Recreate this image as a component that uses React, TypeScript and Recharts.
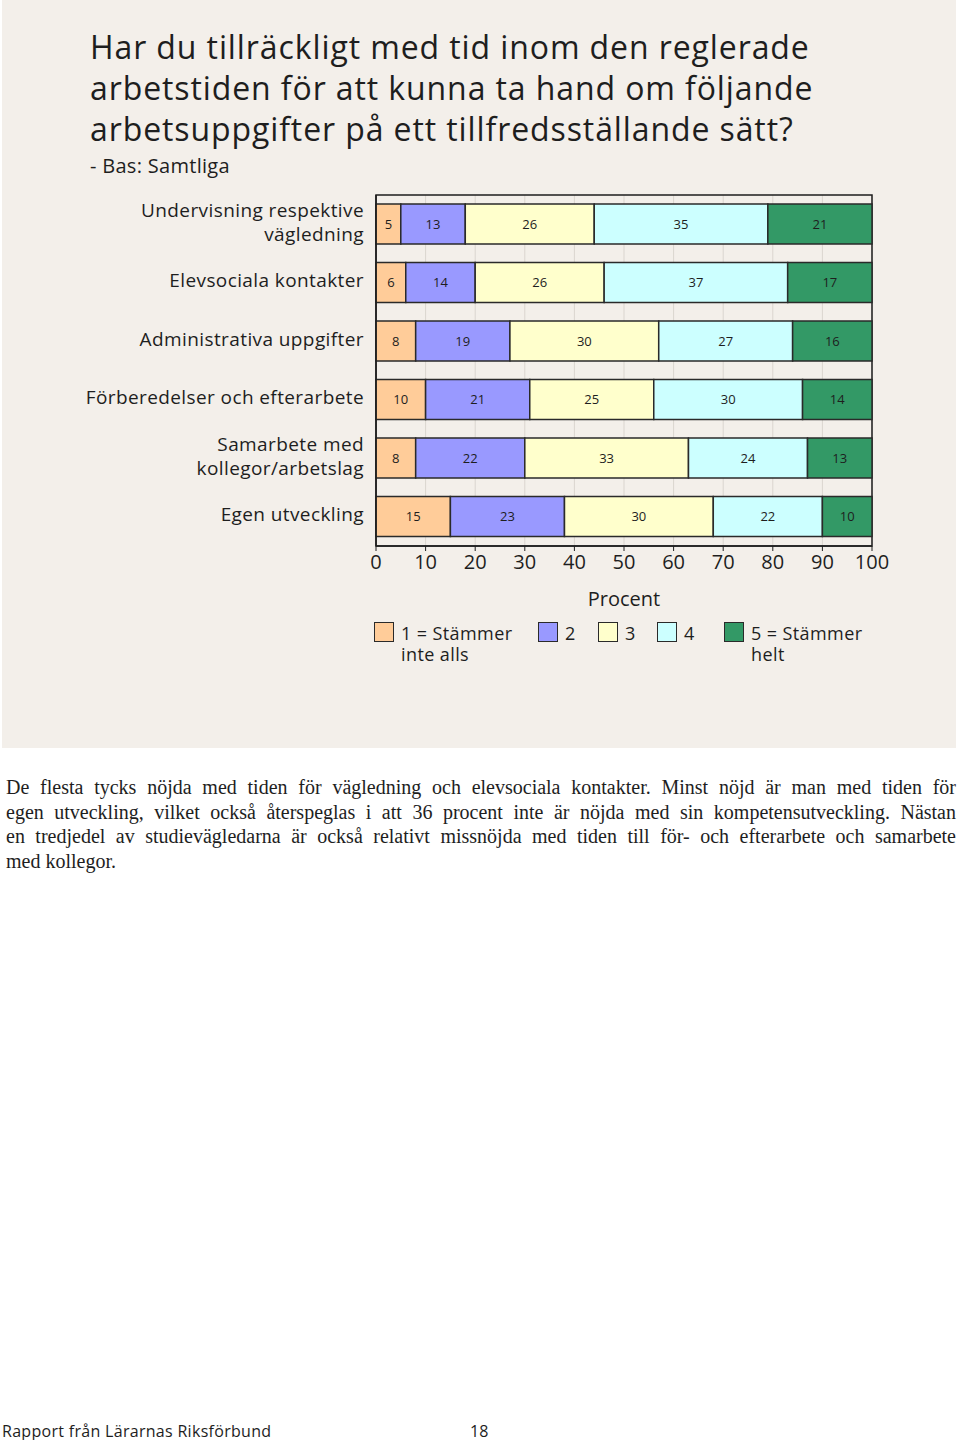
import { BarChart, Bar, XAxis, YAxis, CartesianGrid, LabelList, ReferenceArea } from "recharts";

const categories = [
  "Undervisning respektive|vägledning",
  "Elevsociala kontakter",
  "Administrativa uppgifter",
  "Förberedelser och efterarbete",
  "Samarbete med|kollegor/arbetslag",
  "Egen utveckling",
];
const s1 = [5, 6, 8, 10, 8, 15];
const s2 = [13, 14, 19, 21, 22, 23];
const s3 = [26, 26, 30, 25, 33, 30];
const s4 = [35, 37, 27, 30, 24, 22];
const s5 = [21, 17, 16, 14, 13, 10];
const xTicks = [0, 10, 20, 30, 40, 50, 60, 70, 80, 90, 100];

const SERIES = [
  { key: "s1", color: "#FFCC99", name: "1 = Stämmer|inte alls" },
  { key: "s2", color: "#9999FF", name: "2" },
  { key: "s3", color: "#FFFFCC", name: "3" },
  { key: "s4", color: "#CCFFFF", name: "4" },
  { key: "s5", color: "#339966", name: "5 = Stämmer|helt" },
];

const data = categories.map((c, i) => ({
  name: c,
  s1: s1[i],
  s2: s2[i],
  s3: s3[i],
  s4: s4[i],
  s5: s5[i],
}));

const SANS = "'Open Sans', sans-serif";
const INK = "#1e1e1e";

function YTick(props: any) {
  const { x, y, payload } = props;
  const lines = String(payload.value).split("|");
  const lh = 24;
  const start = y - 2 - ((lines.length - 1) * lh) / 2;
  return (
    <text x={x} y={start} textAnchor="end" fontFamily={SANS} fontSize={19} letterSpacing={0.4} fill={INK}>
      {lines.map((l, i) => (
        <tspan key={i} x={x} y={start + i * lh} dy="0.35em">
          {l}
        </tspan>
      ))}
    </text>
  );
}

export default function App() {
  const legendX = [374, 538, 598, 657, 724];
  return (
    <div style={{ position: "absolute", left: 0, top: 0, width: 960, height: 1440, background: "#fff" }}>
      <div style={{ position: "absolute", left: 2, top: 0, width: 954, height: 748, background: "#F3EFEA" }} />
      <div
        style={{
          position: "absolute",
          left: 90,
          top: 26,
          fontFamily: SANS,
          fontSize: 32,
          letterSpacing: 0.9,
          lineHeight: "41px",
          color: INK,
          whiteSpace: "nowrap",
        }}
      >
        <div>Har du tillräckligt med tid inom den reglerade</div>
        <div>arbetstiden för att kunna ta hand om följande</div>
        <div>arbetsuppgifter på ett tillfredsställande sätt?</div>
        <div style={{ fontSize: 20, letterSpacing: 0.3, lineHeight: "28px", marginTop: 3 }}>- Bas: Samtliga</div>
      </div>
      <div style={{ position: "absolute", left: 0, top: 0 }}>
        <BarChart
          width={960}
          height={700}
          data={data}
          layout="vertical"
          barSize={40}
          margin={{ top: 195, right: 88, bottom: 124, left: 0 }}
        >
          <CartesianGrid horizontal={false} stroke="#DAD5CF" strokeWidth={1} />
          <XAxis
            type="number"
            domain={[0, 100]}
            ticks={xTicks}
            interval={0}
            height={30}
            tickSize={5}
            tickMargin={4}
            axisLine={{ stroke: INK, strokeWidth: 1.5 }}
            tickLine={{ stroke: INK }}
            tick={{ fontFamily: SANS, fontSize: 20, fill: INK }}
          />
          <YAxis
            type="category"
            dataKey="name"
            width={376}
            tickSize={4}
            tickMargin={8}
            tickLine={false}
            axisLine={{ stroke: INK, strokeWidth: 1.5 }}
            tick={<YTick />}
            interval={0}
          />
          {SERIES.map((s) => (
            <Bar
              key={s.key}
              dataKey={s.key}
              stackId="a"
              fill={s.color}
              stroke="#2a2a2a"
              strokeWidth={1.5}
              isAnimationActive={false}
            >
              <LabelList dataKey={s.key} position="center" fontFamily={SANS} fontSize={13} fill={INK} />
            </Bar>
          ))}
          <ReferenceArea x1={0} x2={100} fill="none" stroke={INK} strokeWidth={1.5} ifOverflow="visible" />
        </BarChart>
      </div>
      <div
        style={{
          position: "absolute",
          left: 624,
          top: 585,
          transform: "translateX(-50%)",
          fontFamily: SANS,
          fontSize: 20,
          color: INK,
        }}
      >
        Procent
      </div>
      {SERIES.map((s, i) => (
        <div key={s.key} style={{ position: "absolute", left: legendX[i], top: 622 }}>
          <div
            style={{
              position: "absolute",
              left: 0,
              top: 0,
              width: 18,
              height: 18,
              background: s.color,
              border: "1.5px solid #2a2a2a",
            }}
          />
          <div
            style={{
              position: "absolute",
              left: 27,
              top: 1,
              fontFamily: SANS,
              fontSize: 18,
              letterSpacing: 0.4,
              lineHeight: "21px",
              color: INK,
              whiteSpace: "nowrap",
            }}
          >
            {s.name.split("|").map((l, j) => (
              <div key={j}>{l}</div>
            ))}
          </div>
        </div>
      ))}
      <div
        style={{
          position: "absolute",
          left: 6,
          top: 775,
          width: 950,
          fontFamily: "'Liberation Serif', serif",
          fontSize: 20,
          lineHeight: "24.5px",
          color: INK,
          whiteSpace: "nowrap",
        }}
      >
        <div style={{ textAlign: "justify", textAlignLast: "justify" }}>
          De flesta tycks nöjda med tiden för vägledning och elevsociala kontakter. Minst nöjd är man med tiden för
        </div>
        <div style={{ textAlign: "justify", textAlignLast: "justify" }}>
          egen utveckling, vilket också återspeglas i att 36 procent inte är nöjda med sin kompetensutveckling. Nästan
        </div>
        <div style={{ textAlign: "justify", textAlignLast: "justify" }}>
          en tredjedel av studievägledarna är också relativt missnöjda med tiden till för- och efterarbete och samarbete
        </div>
        <div>med kollegor.</div>
      </div>
      <div
        style={{
          position: "absolute",
          left: 2,
          top: 1420,
          fontFamily: SANS,
          fontSize: 16,
          letterSpacing: 0.3,
          color: INK,
          whiteSpace: "nowrap",
        }}
      >
        Rapport från Lärarnas Riksförbund
      </div>
      <div style={{ position: "absolute", left: 470, top: 1420, fontFamily: SANS, fontSize: 16, color: INK }}>18</div>
    </div>
  );
}
